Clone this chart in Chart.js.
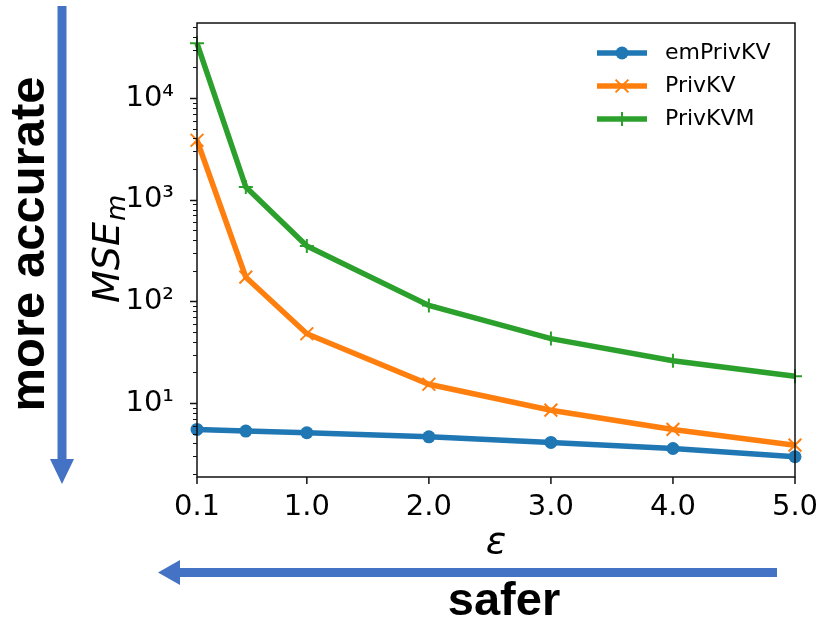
<!DOCTYPE html>
<html>
<head>
<meta charset="utf-8">
<script src="https://cdn.jsdelivr.net/npm/chart.js@4.4.0/dist/chart.umd.min.js"></script>
<style>
  html, body { margin: 0; padding: 0; background: #fff; }
  #wrap { width: 823px; height: 623px; }
</style>
</head>
<body>
<div id="wrap"><canvas id="chart" width="823" height="623"></canvas></div>
<script>
// values
const epsilons = [0.1, 0.5, 1.0, 2.0, 3.0, 4.0, 5.0];
const emPrivKV = [5.5, 5.3, 5.1, 4.65, 4.1, 3.57, 2.96];
const privKV = [3840, 173, 48, 15.3, 8.5, 5.5, 3.85];
const privKVM = [34500, 1330, 350, 91, 43, 26, 18.3];
const xTicks = [0.1, 1.0, 2.0, 3.0, 4.0, 5.0];
const yDecades = [1, 2, 3, 4];
const seriesNames = ['emPrivKV', 'PrivKV', 'PrivKVM'];

const COLORS = ['#1f77b4', '#ff7f0e', '#2ca02c'];
const ARROW = '#4472C4';
const SUP = { 0: '\u2070', 1: '\u00b9', 2: '\u00b2', 3: '\u00b3', 4: '\u2074', 5: '\u2075' };

Chart.defaults.font.family = "'DejaVu Sans', sans-serif";
Chart.defaults.color = '#000';

function pairs(ys) {
    return epsilons.map((x, i) => ({ x: x, y: ys[i] }));
}

function drawMarker(ctx, style, x, y, color) {
    ctx.save();
    ctx.fillStyle = color;
    ctx.strokeStyle = color;
    ctx.lineWidth = 2;
    ctx.beginPath();
    if (style === 'circle') {
        ctx.arc(x, y, 6.5, 0, Math.PI * 2);
        ctx.fill();
    } else if (style === 'crossRot') {
        const d = 6.4;
        ctx.moveTo(x - d, y - d); ctx.lineTo(x + d, y + d);
        ctx.moveTo(x - d, y + d); ctx.lineTo(x + d, y - d);
        ctx.stroke();
    } else {
        const d = 7;
        ctx.moveTo(x - d, y); ctx.lineTo(x + d, y);
        ctx.moveTo(x, y - d); ctx.lineTo(x, y + d);
        ctx.stroke();
    }
    ctx.restore();
}

const decorPlugin = {
    id: 'decor',
    afterDatasetsDraw(chart) {
        const ctx = chart.ctx;
        const a = chart.chartArea;
        const ys = chart.scales.y;
        const xs = chart.scales.x;
        ctx.save();
        ctx.strokeStyle = '#111';
        ctx.lineWidth = 1.5;
        ctx.strokeRect(a.left, a.top, a.right - a.left, a.bottom - a.top);

        // y ticks, major and minor, pointing out
        for (let n = 0; n <= 4; n++) {
            for (let k = 1; k <= 9; k++) {
                const v = k * Math.pow(10, n);
                if (v < ys.min || v > ys.max) continue;
                const py = Math.round(ys.getPixelForValue(v)) + 0.5;
                const len = k === 1 ? 7 : 4;
                ctx.lineWidth = k === 1 ? 1.5 : 1;
                ctx.beginPath();
                ctx.moveTo(a.left - len, py);
                ctx.lineTo(a.left, py);
                ctx.stroke();
            }
        }

        // x ticks
        ctx.beginPath();
        ctx.lineWidth = 1.5;
        xTicks.forEach(v => {
            const px = xs.getPixelForValue(v);
            ctx.moveTo(px, a.bottom);
            ctx.lineTo(px, a.bottom + 7);
        });
        ctx.stroke();
        ctx.restore();
    },
    afterDraw(chart) {
        const ctx = chart.ctx;
        const a = chart.chartArea;
        ctx.save();

        // legend
        const styles = ['circle', 'crossRot', 'cross'];
        ctx.font = "22px 'DejaVu Sans'";
        ctx.textBaseline = 'middle';
        ctx.textAlign = 'left';
        seriesNames.forEach((name, i) => {
            const y = 53 + 33 * i;
            ctx.strokeStyle = COLORS[i];
            ctx.lineWidth = 5.5;
            ctx.beginPath();
            ctx.moveTo(597, y);
            ctx.lineTo(647, y);
            ctx.stroke();
            drawMarker(ctx, styles[i], 622, y, COLORS[i]);
            ctx.fillStyle = '#000';
            ctx.fillText(name, 665, y);
        });

        // y-axis title MSE_m
        ctx.fillStyle = '#000';
        ctx.save();
        ctx.translate(119, 303);
        ctx.rotate(-Math.PI / 2);
        ctx.textBaseline = 'alphabetic';
        ctx.font = "italic 38px 'DejaVu Sans'";
        ctx.fillText('MSE', 0, 0);
        const w = ctx.measureText('MSE').width;
        ctx.font = "italic 27px 'DejaVu Sans'";
        ctx.fillText('m', w + 1, 6);
        ctx.restore();

        // x-axis title
        ctx.font = "italic 38px 'DejaVu Sans'";
        ctx.textAlign = 'center';
        ctx.textBaseline = 'alphabetic';
        ctx.fillText('\u03b5', (a.left + a.right) / 2, 553);

        // arrows
        ctx.fillStyle = ARROW;
        ctx.fillRect(57.5, 6, 9, 456);
        ctx.beginPath();
        ctx.moveTo(50, 459);
        ctx.lineTo(74, 459);
        ctx.lineTo(62, 484);
        ctx.closePath();
        ctx.fill();

        ctx.fillRect(178, 568, 599, 9);
        ctx.beginPath();
        ctx.moveTo(180, 560);
        ctx.lineTo(180, 585);
        ctx.lineTo(158, 572.5);
        ctx.closePath();
        ctx.fill();

        // annotations
        ctx.fillStyle = '#000';
        ctx.font = "bold 47px 'Liberation Sans', Arial, sans-serif";
        ctx.textAlign = 'center';
        ctx.fillText('safer', 504, 615);

        ctx.save();
        ctx.translate(44, 244);
        ctx.rotate(-Math.PI / 2);
        ctx.font = "bold 49px 'Liberation Sans', Arial, sans-serif";
        ctx.fillText('more accurate', 0, 0);
        ctx.restore();

        ctx.restore();
    }
};

const ctx = document.getElementById('chart').getContext('2d');
new Chart(ctx, {
    type: 'line',
    data: {
        datasets: [
            {
                label: seriesNames[0],
                data: pairs(emPrivKV),
                borderColor: COLORS[0],
                backgroundColor: COLORS[0],
                borderWidth: 5.5,
                pointStyle: 'circle',
                pointRadius: 6.5,
                pointBorderWidth: 0,
                pointBackgroundColor: COLORS[0],
                clip: false
            },
            {
                label: seriesNames[1],
                data: pairs(privKV),
                borderColor: COLORS[1],
                backgroundColor: COLORS[1],
                borderWidth: 5.5,
                pointStyle: 'crossRot',
                pointRadius: 9,
                pointBorderWidth: 2,
                pointBorderColor: COLORS[1],
                clip: false
            },
            {
                label: seriesNames[2],
                data: pairs(privKVM),
                borderColor: COLORS[2],
                backgroundColor: COLORS[2],
                borderWidth: 5.5,
                pointStyle: 'cross',
                pointRadius: 7,
                pointBorderWidth: 2,
                pointBorderColor: COLORS[2],
                clip: false
            }
        ]
    },
    options: {
        responsive: false,
        devicePixelRatio: 1,
        animation: false,
        events: [],
        layout: { padding: { top: 23, right: 28, left: 0, bottom: 0 } },
        elements: { line: { tension: 0 } },
        scales: {
            x: {
                type: 'linear',
                min: 0.1,
                max: 5.0,
                grid: { display: false },
                border: { display: false },
                afterBuildTicks: scale => {
                    scale.ticks = xTicks.map(v => ({ value: v }));
                },
                afterFit: scale => {
                    scale.height = 146;
                    scale.paddingLeft = 0;
                    scale.paddingRight = 0;
                },
                ticks: {
                    autoSkip: false,
                    maxRotation: 0,
                    padding: 5,
                    font: { size: 29 },
                    callback: v => Number(v).toFixed(1)
                }
            },
            y: {
                type: 'logarithmic',
                min: 1.872,
                max: 54680,
                grid: { display: false },
                border: { display: false },
                afterBuildTicks: scale => {
                    scale.ticks = yDecades.map(d => ({ value: Math.pow(10, d) }));
                },
                afterFit: scale => {
                    scale.width = 197;
                    scale.paddingTop = 0;
                    scale.paddingBottom = 0;
                },
                ticks: {
                    autoSkip: false,
                    padding: 15,
                    font: { size: 29 },
                    callback: v => '10' + SUP[Math.round(Math.log10(v))]
                }
            }
        },
        plugins: {
            legend: { display: false },
            tooltip: { enabled: false }
        }
    },
    plugins: [decorPlugin]
});
</script>
</body>
</html>
